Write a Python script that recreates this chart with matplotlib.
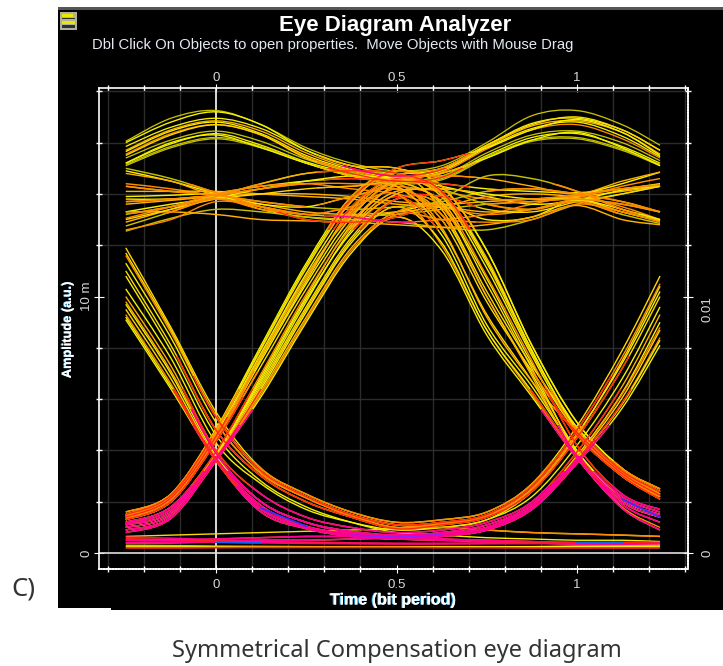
#!/usr/bin/env python3
# Eye diagram screenshot, traces at 13 time knots (mV)
import numpy as np
import matplotlib
matplotlib.use("Agg")
import matplotlib.pyplot as plt
import matplotlib.patheffects as pe
from matplotlib.patches import PathPatch, Rectangle
from matplotlib.path import Path

W, H = 723, 666

T = [-0.25, -0.125, 0, 0.125, 0.25, 0.375, 0.5, 0.625, 0.75, 0.875, 1, 1.125, 1.23]

TOP = [
    [16.05, 16.95, 17.25, 16.7, 15.8, 15.2, 14.9, 15.1, 16.0, 17.05, 17.25, 16.7, 15.9],
    [15.85, 16.6, 16.95, 16.55, 15.7, 15.1, 14.8, 15.0, 15.9, 16.75, 16.95, 16.5, 15.7],
    [15.7, 16.5, 16.85, 16.45, 15.6, 15.0, 14.7, 14.95, 15.85, 16.65, 16.85, 16.4, 15.55],
    [15.65, 16.45, 16.8, 16.35, 15.5, 14.95, 14.65, 14.9, 15.8, 16.55, 16.8, 16.25, 15.45],
    [15.55, 16.35, 16.7, 16.3, 15.45, 14.9, 14.6, 14.85, 15.75, 16.5, 16.7, 16.15, 15.4],
    [15.4, 16.1, 16.45, 16.05, 15.35, 14.85, 14.55, 14.7, 15.6, 16.3, 16.45, 16.0, 15.3],
    [15.2, 15.95, 16.35, 15.9, 15.25, 14.8, 14.5, 14.65, 15.5, 16.2, 16.35, 15.85, 15.2],
    [15.15, 15.85, 16.2, 15.85, 15.2, 14.75, 14.45, 14.6, 15.45, 16.1, 16.2, 15.75, 15.15],
    [15.1, 15.8, 16.15, 15.8, 15.2, 14.7, 14.4, 14.55, 15.4, 16.05, 16.15, 15.7, 15.1],
]

MID = [
    [15.0, 14.6, 14.05, 13.5, 13.0, 12.9, 13.1, 13.8, 14.7, 14.6, 14.1, 13.4, 13.0],
    [14.9, 14.5, 14.0, 13.4, 13.1, 13.0, 13.3, 13.6, 13.0, 13.1, 13.9, 14.4, 14.85],
    [14.4, 14.2, 13.9, 13.4, 13.2, 13.1, 12.9, 13.0, 13.2, 13.6, 13.9, 13.5, 13.0],
    [14.3, 14.1, 13.95, 13.7, 13.5, 13.4, 13.5, 13.7, 14.1, 14.2, 14.0, 13.7, 13.3],
    [14.1, 14.1, 14.1, 14.0, 13.9, 13.8, 13.6, 13.5, 13.3, 13.4, 13.75, 13.3, 12.95],
    [13.9, 13.95, 14.05, 14.3, 14.5, 14.6, 14.5, 14.4, 14.2, 14.1, 14.05, 14.2, 14.4],
    [13.7, 13.8, 13.95, 14.2, 14.4, 14.4, 14.3, 14.1, 13.8, 13.8, 13.95, 14.2, 14.35],
    [13.6, 13.75, 13.9, 14.0, 14.0, 13.9, 13.7, 13.6, 13.7, 13.8, 13.9, 14.1, 14.3],
    [13.3, 13.6, 13.85, 14.2, 14.5, 14.7, 14.6, 14.3, 13.9, 13.6, 13.75, 14.15, 14.3],
    [13.2, 13.5, 13.8, 13.5, 13.2, 13.15, 13.2, 13.4, 13.6, 13.7, 13.8, 13.6, 13.3],
    [13.05, 13.5, 14.0, 14.3, 14.4, 14.2, 14.0, 13.5, 13.2, 13.4, 13.85, 14.3, 14.6],
    [12.9, 13.4, 13.9, 13.6, 13.3, 13.2, 13.3, 13.5, 13.9, 14.0, 13.85, 13.3, 12.95],
    [12.75, 13.3, 13.9, 14.4, 14.8, 14.9, 14.7, 14.2, 13.6, 13.4, 13.7, 13.2, 12.85],
    [12.55, 13.05, 13.4, 13.3, 13.1, 13.0, 12.9, 12.7, 12.6, 13.0, 13.6, 14.0, 14.3],
    [13.3, 13.3, 13.2, 13.0, 12.95, 12.9, 12.8, 12.7, 12.8, 13.1, 13.55, 13.0, 12.8],
]

# low - high - low, upper group first
RISE_FALL = [
    [1.6, 2.3, 4.85, 8.1, 11.3, 13.9, 14.9, 14.3, 11.8, 8.1, 5.1, 3.3, 2.5],
    [1.5, 2.25, 4.75, 7.95, 11.1, 13.7, 14.8, 13.4, 10.2, 7.3, 4.9, 3.2, 2.4],
    [1.45, 2.2, 4.65, 7.8, 10.9, 13.5, 14.6, 14.1, 11.4, 7.9, 4.8, 3.15, 2.3],
    [1.4, 2.15, 4.55, 7.7, 10.7, 13.3, 14.4, 12.7, 9.2, 6.7, 4.7, 3.1, 2.25],
    [1.35, 2.1, 4.45, 7.5, 10.5, 13.1, 14.5, 13.9, 11.1, 7.7, 4.7, 3.05, 2.2],
    [1.3, 2.0, 4.35, 7.3, 10.3, 12.9, 14.2, 13.0, 9.8, 7.1, 4.6, 3.0, 2.1],
    [1.2, 1.8, 3.95, 7.0, 10.1, 12.7, 14.1, 13.7, 10.8, 7.5, 4.2, 2.3, 1.7],
    [1.15, 1.7, 3.85, 6.8, 9.9, 12.5, 13.9, 12.4, 8.9, 6.5, 3.95, 2.2, 1.6],
    [1.1, 1.6, 3.8, 6.6, 9.6, 12.3, 13.8, 13.5, 10.5, 7.2, 3.9, 2.1, 1.5],
    [1.0, 1.5, 3.7, 6.4, 9.4, 12.1, 13.5, 12.1, 8.7, 6.3, 3.8, 2.0, 1.4],
    [0.9, 1.4, 3.65, 6.3, 9.2, 11.9, 13.3, 13.2, 10.0, 6.9, 3.75, 1.9, 1.2],
    [0.8, 1.35, 3.6, 6.1, 9.0, 11.7, 13.1, 11.8, 8.5, 6.1, 3.7, 1.75, 0.9],
]

# low - high - stays high
RISE_HOLD = [
    [1.5, 2.3, 4.8, 8.0, 11.2, 13.8, 15.0, 15.3, 15.8, 16.5, 16.9, 16.4, 15.5],
    [1.3, 2.0, 4.4, 7.6, 10.6, 13.4, 14.7, 15.0, 15.9, 16.7, 17.0, 16.5, 15.7],
    [1.1, 1.6, 3.8, 6.9, 10.0, 12.8, 14.4, 14.8, 15.4, 16.1, 16.4, 15.8, 15.1],
    [1.4, 2.2, 4.6, 7.7, 10.8, 13.2, 14.5, 14.7, 14.6, 14.3, 14.0, 14.5, 14.85],
    [1.2, 1.8, 3.9, 6.7, 9.8, 12.6, 14.0, 14.2, 14.0, 13.8, 13.8, 13.4, 13.0],
    [1.0, 1.5, 3.7, 6.5, 9.5, 12.2, 13.8, 13.9, 13.4, 13.3, 13.7, 14.0, 14.3],
    [0.9, 1.4, 3.6, 6.2, 9.1, 11.8, 13.2, 13.0, 12.9, 13.0, 13.6, 13.3, 12.9],
]

# stays high - high - low
HOLD_FALL = [
    [16.0, 16.8, 17.2, 16.7, 15.7, 15.1, 15.0, 14.3, 11.8, 8.1, 5.1, 3.3, 2.5],
    [15.5, 16.3, 16.7, 16.3, 15.4, 14.9, 14.7, 14.0, 11.3, 7.8, 4.9, 3.2, 2.4],
    [15.2, 16.0, 16.3, 15.8, 15.2, 14.7, 14.5, 13.6, 10.7, 7.4, 4.7, 3.0, 2.2],
    [14.8, 14.5, 14.0, 14.4, 14.8, 14.9, 14.8, 14.1, 11.5, 7.9, 4.8, 3.1, 2.3],
    [13.8, 13.8, 13.9, 13.6, 13.5, 13.9, 14.2, 13.2, 10.0, 7.0, 4.0, 2.1, 1.5],
    [13.0, 13.4, 13.8, 14.0, 14.2, 14.3, 14.3, 12.6, 9.3, 6.7, 3.9, 2.0, 1.4],
    [12.6, 13.0, 13.7, 13.5, 13.2, 13.5, 14.0, 12.0, 8.7, 6.2, 3.7, 1.8, 1.0],
]

# high - low - high
FALL_RISE = [
    [11.9, 8.8, 5.5, 3.3, 2.3, 1.6, 1.2, 1.3, 1.6, 2.7, 4.95, 7.9, 10.8],
    [11.6, 8.6, 5.3, 3.2, 2.2, 1.5, 1.1, 1.2, 1.5, 2.6, 4.8, 7.65, 10.5],
    [11.3, 8.4, 5.1, 3.1, 2.15, 1.45, 1.0, 1.15, 1.45, 2.5, 4.65, 7.4, 10.2],
    [11.0, 8.1, 4.8, 3.0, 2.0, 1.4, 0.95, 1.1, 1.4, 2.4, 4.5, 7.2, 10.0],
    [10.3, 7.6, 4.3, 2.7, 1.7, 1.2, 0.9, 1.0, 1.3, 2.2, 4.2, 6.8, 9.6],
    [10.0, 7.3, 4.0, 2.3, 1.4, 1.0, 0.8, 0.9, 1.2, 2.0, 3.95, 6.5, 9.3],
    [9.7, 7.0, 3.8, 2.0, 1.2, 0.85, 0.7, 0.8, 1.1, 1.9, 3.8, 6.25, 9.0],
    [9.5, 6.8, 3.7, 1.85, 1.05, 0.75, 0.65, 0.75, 1.0, 1.8, 3.7, 6.05, 8.7],
    [9.3, 6.6, 3.65, 1.75, 1.0, 0.7, 0.6, 0.7, 0.95, 1.75, 3.6, 5.85, 8.4],
    [9.1, 6.4, 3.6, 1.6, 0.95, 0.65, 0.55, 0.65, 0.9, 1.7, 3.5, 5.65, 8.1],
]

FALL_LOW = [
    [11.7, 8.7, 5.35, 3.2, 2.2, 1.5, 1.1, 1.0, 0.9, 0.8, 0.75, 0.7, 0.65],
    [10.8, 7.9, 4.6, 2.8, 1.8, 1.2, 0.8, 0.7, 0.6, 0.55, 0.5, 0.5, 0.45],
    [9.8, 7.1, 3.9, 2.0, 1.2, 0.8, 0.65, 0.55, 0.5, 0.45, 0.4, 0.4, 0.35],
    [9.2, 6.5, 3.6, 1.7, 1.0, 0.7, 0.55, 0.5, 0.45, 0.4, 0.35, 0.35, 0.3],
]

LOW_RISE = [
    [0.65, 0.7, 0.75, 0.8, 0.85, 0.9, 0.95, 1.0, 1.3, 2.4, 4.6, 7.5, 10.4],
    [0.5, 0.5, 0.55, 0.6, 0.65, 0.65, 0.7, 0.75, 1.0, 1.9, 3.75, 6.2, 8.8],
    [0.4, 0.4, 0.45, 0.5, 0.5, 0.55, 0.6, 0.7, 0.9, 1.75, 3.6, 5.8, 8.3],
]

RAILS = [
    [0.62, 0.58, 0.52, 0.46, 0.42, 0.4, 0.38, 0.38, 0.4, 0.42, 0.42, 0.42, 0.42],
    [0.56, 0.52, 0.47, 0.43, 0.4, 0.38, 0.37, 0.37, 0.38, 0.4, 0.4, 0.4, 0.38],
    [0.5, 0.47, 0.43, 0.4, 0.38, 0.37, 0.36, 0.36, 0.37, 0.37, 0.38, 0.37, 0.35],
    [0.3, 0.29, 0.27, 0.26, 0.25, 0.24, 0.24, 0.24, 0.24, 0.25, 0.27, 0.28, 0.3],
    [0.24, 0.24, 0.24, 0.23, 0.23, 0.23, 0.23, 0.24, 0.24, 0.24, 0.25, 0.25, 0.24],
    [0.2, 0.2, 0.21, 0.22, 0.22, 0.22, 0.22, 0.21, 0.21, 0.2, 0.2, 0.2, 0.2],
]

# short coloured stretches, nan where they are absent
BLUE_RAIL = [np.nan, np.nan, 0.42, 0.4, np.nan, np.nan, np.nan, np.nan, np.nan, np.nan, 0.4, 0.41, np.nan]
BLUE_LOW = [np.nan, np.nan, np.nan, 1.75, 1.05, np.nan, np.nan, np.nan, np.nan, np.nan, np.nan, 2.1, 1.4]
PURPLE_LOW = [np.nan, np.nan, np.nan, np.nan, np.nan, 0.7, 0.62, 0.72, np.nan, np.nan, np.nan, np.nan, np.nan]

X_LABELS = {0: "0", 0.5: "0.5", 1: "1"}

YELLOW = "#f4f000"
DIM = "#c4c000"
AMBER = "#ffb000"
ORANGE = "#ff8a00"
RED = "#ff2a10"
PINK = "#ff0090"

FONT = ["Liberation Sans", "DejaVu Sans"]
plt.rcParams["font.family"] = FONT


def smooth_path(xs, ys):
    # Catmull-Rom through the knots, as bezier segments
    pts = np.column_stack([xs, ys])
    verts = [pts[0]]
    codes = [Path.MOVETO]
    for i in range(len(pts) - 1):
        p0 = pts[max(i - 1, 0)]
        p1, p2 = pts[i], pts[i + 1]
        p3 = pts[min(i + 2, len(pts) - 1)]
        verts += [p1 + (p2 - p0) / 6, p2 - (p3 - p1) / 6, p2]
        codes += [Path.CURVE4] * 3
    return Path(verts, codes)


def draw(ax, trace, color, lw=0.8, z=3, clip=None):
    patch = PathPatch(smooth_path(T, np.array(trace) * 1e-3), fill=False,
                      edgecolor=color, lw=lw, zorder=z, capstyle="butt")
    ax.add_patch(patch)
    if clip is not None:
        # clip = (t0, t1, y0, y1)
        box = Rectangle((clip[0], clip[2] * 1e-3), clip[1] - clip[0],
                        (clip[3] - clip[2]) * 1e-3, transform=ax.transData)
        patch.set_clip_path(box)


def px_rect(fig, x, y, w, h, color, z=0):
    fig.add_artist(Rectangle((x / W, 1 - (y + h) / H), w / W, h / H,
                             transform=fig.transFigure, facecolor=color,
                             edgecolor="none", zorder=z))


def px_text(fig, x, y, s, **kw):
    return fig.text(x / W, 1 - y / H, s, va=kw.pop("va", "center"), **kw)


fig = plt.figure(figsize=(W / 100, H / 100), dpi=100, facecolor="white")

# black window of the analyzer
px_rect(fig, 58, 10, 665, 598, "black", z=-5)
px_rect(fig, 58, 7, 665, 3, "#555555", z=-5)
px_rect(fig, 58, 608, 53, 2, "white", z=-4)
px_rect(fig, 111, 608, 612, 2, "black", z=-5)

# little menu icon
px_rect(fig, 60, 12, 17, 18, "#b0b0a0", z=-3)
px_rect(fig, 62, 14, 11, 3, "#e8e800", z=-2)
px_rect(fig, 62, 21, 13, 3, "#e8e800", z=-2)
px_rect(fig, 62, 25, 13, 3, "#303030", z=-2)
px_rect(fig, 62, 18, 13, 1, "#303030", z=-2)

ax = fig.add_axes([99 / W, 1 - 569 / H, (688 - 99) / W, (569 - 88) / H],
                  facecolor="black")
ax.set_xlim((99 - 216) / 361, (688 - 216) / 361)
ax.set_ylim(-0.00062, 0.01813)

x_minor = [i / 10 for i in range(-3, 14)]
y_minor = [i * 0.002 for i in range(0, 10)]
ax.set_xticks(x_minor, minor=True)
ax.set_yticks(y_minor, minor=True)
ax.grid(True, which="minor", color="#2c2c2c", lw=1, zorder=0)
ax.set_axisbelow(True)

ax.set_xticks(list(X_LABELS), [X_LABELS[k] for k in X_LABELS])
ax.set_yticks([0, 0.01], ["0", "10 m"])
ax.tick_params(axis="x", which="major", top=True, direction="inout",
               length=6, color="white", labelcolor="#d8d8d8", labelsize=9.5, pad=4)
ax.tick_params(axis="y", which="major", left=True, right=True, direction="inout",
               length=7, color="white", labelcolor="#d8d8d8", labelsize=9.5, pad=1)
ax.tick_params(which="minor", top=True, right=True, direction="inout",
               length=4, color="white", width=1)
for lab in ax.get_yticklabels():
    lab.set_rotation(90)
    lab.set_va("center")

sec = ax.secondary_yaxis("right")
sec.set_yticks([0, 0.01], ["0", "0.01"])
sec.tick_params(length=0, labelcolor="#d8d8d8", labelsize=9.5, pad=10)
for lab, va in zip(sec.get_yticklabels(), ["center", "top"]):
    lab.set_rotation(90)
    lab.set_va(va)
sec.spines["right"].set_visible(False)

sec_x = ax.secondary_xaxis("top")
sec_x.set_xticks(list(X_LABELS), [X_LABELS[k] for k in X_LABELS])
sec_x.tick_params(length=0, labelcolor="#d8d8d8", labelsize=9.5, pad=3)
sec_x.spines["top"].set_visible(False)

for side in ["left", "top"]:
    ax.spines[side].set_color("white")
    ax.spines[side].set_linewidth(1.2)
for side in ["right", "bottom"]:
    ax.spines[side].set_color("white")
    ax.spines[side].set_linewidth(1.3)
    ax.spines[side].set_linestyle((0, (1, 0.6)))

ax.axvline(0, color="white", lw=1.2, zorder=2)
ax.axhline(0, color="#e0e0e0", lw=1.2, zorder=2)

# upper rails
top_cols = [DIM, YELLOW, AMBER, YELLOW, ORANGE, DIM, YELLOW, DIM, DIM]
for trace, col in zip(TOP, top_cols):
    draw(ax, trace, col, lw=0.95, z=3)
mid_cols = [DIM, YELLOW, ORANGE, DIM, AMBER, YELLOW, ORANGE, AMBER, YELLOW, DIM, ORANGE, AMBER, DIM, DIM, AMBER]
for trace, col in zip(MID, mid_cols):
    draw(ax, trace, col, lw=1.05, z=3)

# edges, yellow at the rim and warmer inside
steep = RISE_HOLD + HOLD_FALL + RISE_FALL + FALL_RISE + FALL_LOW + LOW_RISE
for i, trace in enumerate(steep):
    col = [YELLOW, "#ffd800", YELLOW, AMBER, YELLOW, "#ffd800", ORANGE][i % 7]
    draw(ax, trace, col, lw=1.0, z=4)

# the dense spots pick up warmer colours
for i, trace in enumerate(RISE_FALL + RISE_HOLD + HOLD_FALL):
    col = [ORANGE, AMBER, RED, ORANGE, AMBER][i % 5]
    draw(ax, trace, col, lw=0.9, z=5, clip=(0.28, 0.72, 12.6, 15.6))
for i, trace in enumerate(MID + TOP):
    if i % 3 == 0:
        draw(ax, trace, ORANGE, lw=1.2, z=4, clip=(-0.25, 0.25, 13.2, 14.4))
        draw(ax, trace, ORANGE, lw=1.2, z=4, clip=(0.75, 1.25, 13.2, 14.4))
    if i % 4 == 1:
        draw(ax, trace, RED, lw=0.9, z=5, clip=(0.3, 0.7, 14.2, 15.0))
draw(ax, MID[0], RED, lw=1.0, z=6, clip=(0.12, 0.55, 12.8, 13.3))
draw(ax, MID[2], PINK, lw=1.0, z=6, clip=(0.3, 0.55, 12.8, 13.3))
draw(ax, TOP[2], PINK, lw=1.0, z=6, clip=(0.33, 0.55, 14.5, 15.1))

# low parts: orange/red upper group, pink lower group, cut at staggered heights
upper = RISE_FALL[:6] + FALL_RISE[:4] + RISE_HOLD[:2] + HOLD_FALL[:3] + FALL_LOW[:1]
for i, trace in enumerate(upper):
    draw(ax, trace, ORANGE, lw=1.1, z=5, clip=(-0.3, 1.3, -1, 3.6 + (i % 6) * 0.7))
for i, trace in enumerate(RISE_FALL[1:6:2] + FALL_RISE[1:4:2]):
    draw(ax, trace, RED, lw=1.0, z=6, clip=(-0.3, 1.3, -1, 4.5 + (i % 5) * 0.8))
lower = RISE_FALL[6:] + FALL_RISE[5:] + FALL_LOW[2:] + LOW_RISE[1:]
for i, trace in enumerate(lower):
    draw(ax, trace, PINK, lw=1.2, z=6, clip=(-0.3, 1.3, -1, 2.6 + (i % 6) * 0.6))
    if i % 3 == 0:
        draw(ax, trace, RED, lw=1.0, z=6, clip=(-0.3, 1.3, 2.6, 6.4))

for trace, col in zip(RAILS, [PINK, RED, PINK, AMBER, YELLOW, RED]):
    draw(ax, trace, col, lw=1.2, z=7)

for vals, col in zip([BLUE_RAIL, BLUE_LOW, PURPLE_LOW], ["#1060ff", "#3030ff", "#9020ff"]):
    ax.plot(T, np.array(vals) * 1e-3, color=col, lw=1.2, zorder=8)

# window texts
px_text(fig, 395, 25, "Eye Diagram Analyzer", color="white", fontsize=16,
        fontweight="bold", ha="center")
px_text(fig, 92, 45, "Dbl Click On Objects to open properties.  Move Objects with Mouse Drag",
        color="#e4e8f0", fontsize=10.7, ha="left")

shadow = [pe.withSimplePatchShadow(offset=(-0.8, 0), shadow_rgbFace="#2aa0e0", alpha=1), pe.Normal()]
t1 = px_text(fig, 393, 600, "Time (bit period)", color="white", fontsize=11.6,
             fontweight="bold", ha="center")
t2 = px_text(fig, 68, 330, "Amplitude (a.u.)", color="white", fontsize=9.2,
             fontweight="bold", ha="center", rotation=90)
t1.set_path_effects(shadow)
t2.set_path_effects(shadow)

# caption under the screenshot
px_text(fig, 11, 589, "C)", color="#333333", fontsize=18.5, family=["Noto Sans"], ha="left")
px_text(fig, 397, 651, "Symmetrical Compensation eye diagram", color="#333333",
        fontsize=17, family=["Noto Sans"], ha="center")

fig.savefig("out.png", dpi=100, facecolor="white")
